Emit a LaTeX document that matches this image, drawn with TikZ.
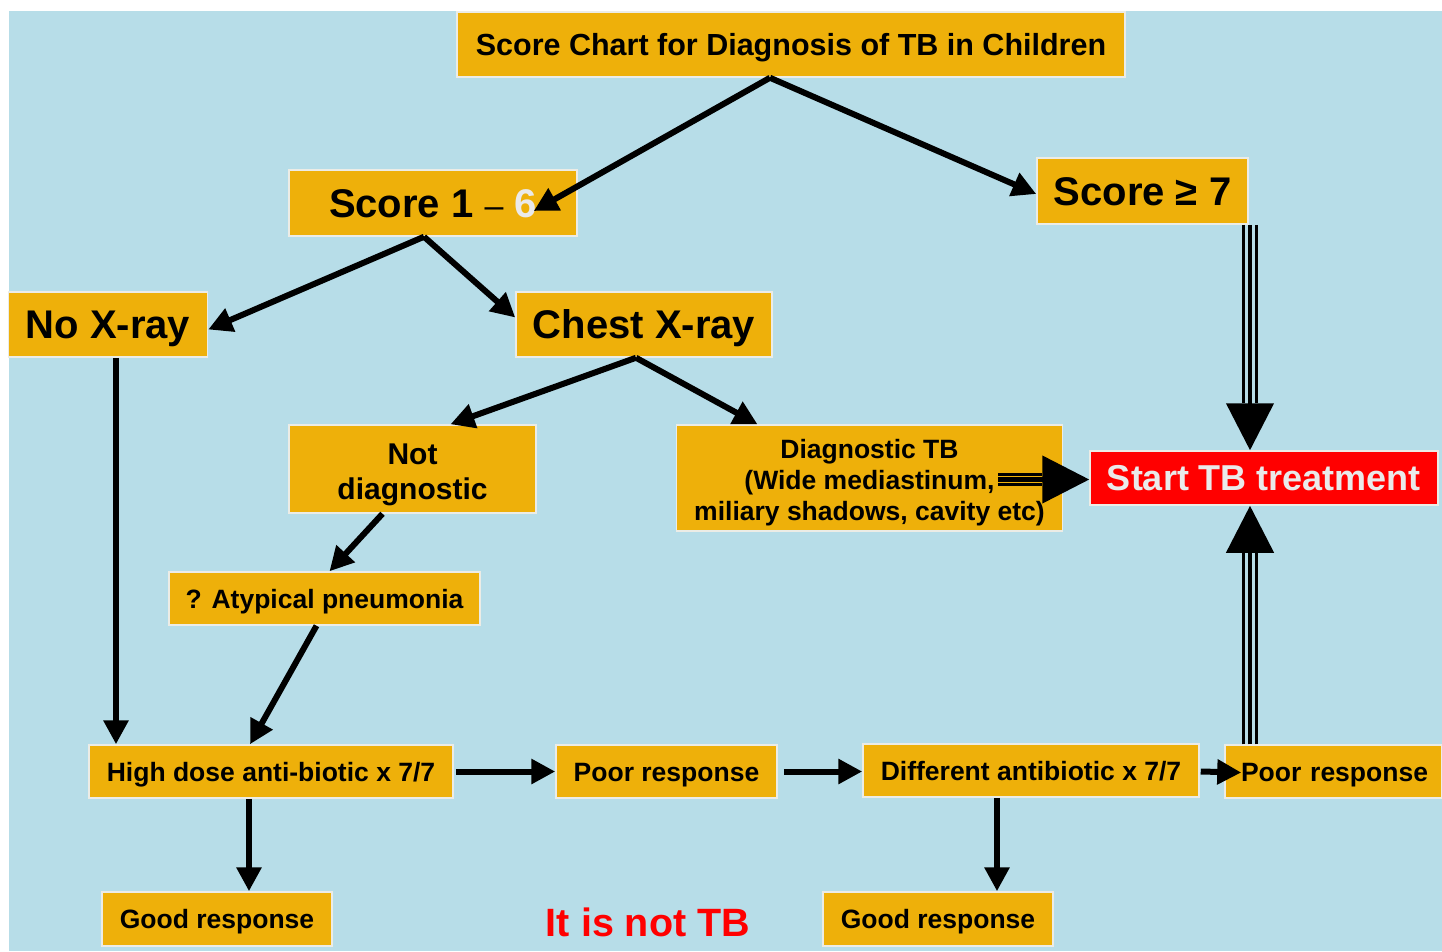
\documentclass[tikz,border=0pt]{standalone}
\usepackage{fontspec}
\setmainfont{Liberation Sans}
\usetikzlibrary{arrows.meta,calc}
\definecolor{bgblue}{RGB}{183,221,232}
\definecolor{boxfill}{RGB}{238,176,10}
\definecolor{boxedge}{RGB}{236,236,230}
\definecolor{alarm}{RGB}{255,0,0}
\definecolor{pale}{RGB}{234,234,234}
\begin{document}
\begin{tikzpicture}[x=1pt,y=-1pt,
  box/.style={fill=boxfill, draw=boxedge, line width=1.5pt, inner sep=0pt, align=center},
  redbox/.style={box, fill=alarm},
  % cap heights of Liberation Sans Bold at the sizes used
  big/.style={font=\bfseries\fontsize{40}{46}\selectfont, text height=28.6pt, text depth=0pt},
  mid/.style={font=\bfseries\fontsize{30}{35}\selectfont},
  small/.style={font=\bfseries\fontsize{26.5}{31}\selectfont, text height=19pt, text depth=0pt},
  arr/.style={line width=6pt, -{Triangle[length=24pt,width=24pt]}},
  triside/.style={line width=3.2pt},
  trimid/.style={line width=4.5pt, -{Triangle[length=47pt,width=47pt]}},
]
\useasboundingbox (0,0) rectangle (1442,951);
\fill[bgblue] (9,11) rectangle (1442,951);

% boxes
\node[box, minimum width=668pt, minimum height=65pt, font=\bfseries\fontsize{30.5}{36}\selectfont, text height=21.8pt, text depth=0pt] (title) at (791,44.5) {Score Chart for Diagnosis of TB in Children};
\node[box, big, minimum width=288pt, minimum height=66pt] (s16) at (433,203) {Score 1 {\fontsize{34}{40}\mdseries –} {\color{pale}6}};
\node[box, big, minimum width=211pt, minimum height=66pt, text depth=-3pt] (s7) at (1142.5,191) {Score ≥ 7};
\node[box, big, minimum width=199pt, minimum height=65pt] (nox) at (108,324.5) {No X-ray};
\node[box, big, minimum width=256pt, minimum height=65pt] (chest) at (644,324.5) {Chest X-ray};
\node[box, mid, text height=66.5pt, minimum width=247pt, minimum height=88pt] (notd) at (412.5,469) {Not\\diagnostic};
\node[box, font=\bfseries\fontsize{26.5}{31}\selectfont, text height=91pt, minimum width=386pt, minimum height=106pt] (diag) at (869.5,478) {Diagnostic TB\\(Wide mediastinum,\\miliary shadows, cavity etc)};
\node[redbox, minimum width=348pt, minimum height=54pt, font=\bfseries\fontsize{36}{42}\selectfont, text height=25.8pt, text depth=-4pt, text=pale] (start) at (1264,478) {Start TB treatment};
\node[box, small, minimum width=311pt, minimum height=53pt] (atyp) at (324.5,598.5) {? Atypical pneumonia};
\node[box, small, minimum width=364pt, minimum height=53pt] (high) at (271,771.5) {High dose anti-biotic x 7/7};
\node[box, small, minimum width=221pt, minimum height=53pt] (poor1) at (666.5,771.5) {Poor response};
\node[box, small, minimum width=336pt, minimum height=53pt] (diff) at (1031,770.5) {Different antibiotic x 7/7};
\node[box, small, minimum width=217pt, minimum height=53pt, text width=217pt] (poor2) at (1333.5,771.5) {\hspace*{2pt}Poor response};
\node[box, small, minimum width=230pt, minimum height=54pt] (good1) at (217,919) {Good response};
\node[box, small, minimum width=230pt, minimum height=54pt] (good2) at (938,919) {Good response};
\node[font=\bfseries\fontsize{39.5}{45}\selectfont, text height=28.3pt, text depth=0pt, inner sep=0pt, text=alarm] (nottb) at (648,922.5) {It is not TB};

% single arrows
\draw[arr] ($(title.south)+(-21,0)$) -- ($(s16.east)+(-44,8)$);
\draw[arr] ($(title.south)+(-21,0)$) -- ($(s7.west)+(0,3)$);
\draw[arr] ($(s16.south)+(-9,0)$) -- ($(nox.east)+(0,5)$);
\draw[arr] ($(s16.south)+(-9,0)$) -- ($(chest.west)+(0,-7)$);
\draw[arr] ($(chest.south)+(-8,0)$) -- ($(notd.north)+(38,0)$);
\draw[arr] ($(chest.south)+(-8,0)$) -- ($(diag.north)+(-112,0)$);
\draw[arr] ($(notd.south)+(-30,0)$) -- ($(atyp.north)+(5,0)$);
\draw[arr] ($(atyp.south)+(-8,0)$) -- ($(high.north)+(-21,0)$);
\draw[arr] ($(nox.south)+(8,0)$) -- ($(high.north)+(-155,0)$);
\draw[arr] ($(high.east)+(2,0)$) -- (poor1.west);
\draw[arr] ($(poor1.east)+(6,0)$) -- ($(diff.west)+(0,1)$);
\draw[arr] ($(diff.east)+(1,1)$) -- ($(poor2.west)+(17,1)$);
\draw[arr] ($(high.south)+(-22,0)$) -- ($(good1.north)+(32,0)$);
\draw[arr] ($(diff.south)+(-34,0)$) -- ($(good2.north)+(59,0)$);

% triple-line arrows into the treatment box
\draw[triside] ($(s7.south)+(100.7,0)$) -- ($(start.north)+(-20.8,-47)$);
\draw[triside] ($(s7.south)+(114.3,0)$) -- ($(start.north)+(-7.2,-47)$);
\draw[trimid] ($(s7.south)+(107.5,0)$) -- ($(start.north)+(-14,0)$);

\draw[triside] ($(poor2.north)+(-90.3,0)$) -- ($(start.south)+(-20.8,47)$);
\draw[triside] ($(poor2.north)+(-76.7,0)$) -- ($(start.south)+(-7.2,47)$);
\draw[trimid] ($(poor2.north)+(-83.5,0)$) -- ($(start.south)+(-14,0)$);

\draw[triside] ($(diag.east)+(-65,-3.5)$) -- ($(start.west)+(-47,-3.5)$);
\draw[triside] ($(diag.east)+(-65,6.5)$) -- ($(start.west)+(-47,6.5)$);
\draw[trimid] ($(diag.east)+(-65,1.5)$) -- ($(start.west)+(0,1.5)$);
\end{tikzpicture}
\end{document}
